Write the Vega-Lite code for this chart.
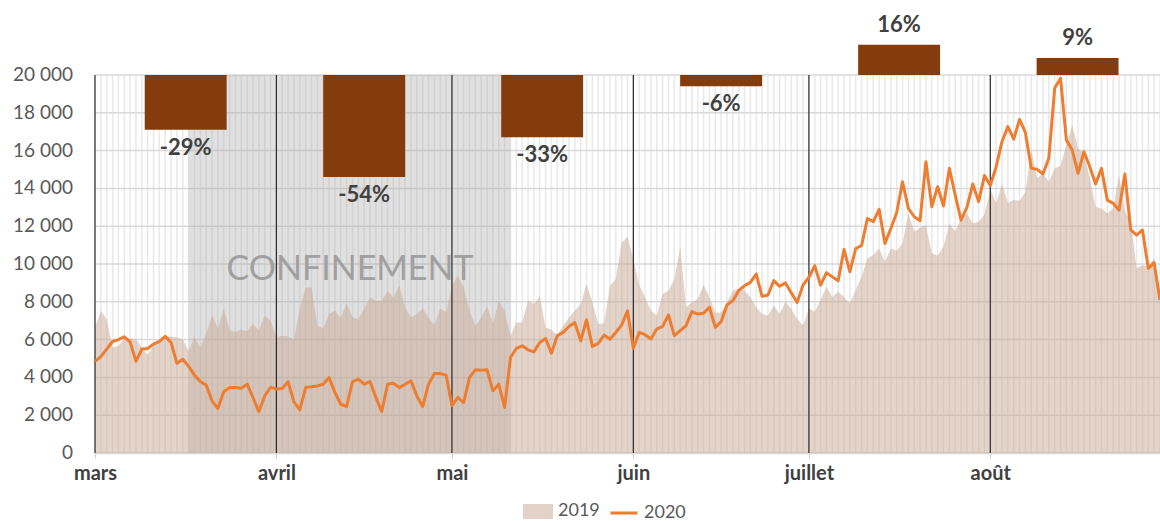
{
  "$schema": "https://vega.github.io/schema/vega-lite/v6.json",
  "width": 1065,
  "height": 378,
  "autosize": {"type": "none"},
  "padding": {"left": 95, "top": 75, "right": 0, "bottom": 68},
  "background": "white",
  "config": {"view": {"stroke": null}, "font": "Lato", "axisY": {"disable": true}},
  "datasets": {
    "daily": [
      {"date":"2020-03-01","v2019":6640,"v2020":4850},{"date":"2020-03-02","v2019":7520,"v2020":5100},{"date":"2020-03-03","v2019":7080,"v2020":5500},{"date":"2020-03-04","v2019":5580,"v2020":5900},{"date":"2020-03-05","v2019":5670,"v2020":6000},{"date":"2020-03-06","v2019":6060,"v2020":6150},{"date":"2020-03-07","v2019":6060,"v2020":5880},{"date":"2020-03-08","v2019":6020,"v2020":4850},{"date":"2020-03-09","v2019":5580,"v2020":5500},{"date":"2020-03-10","v2019":5180,"v2020":5530},{"date":"2020-03-11","v2019":5670,"v2020":5760},{"date":"2020-03-12","v2019":5940,"v2020":5900},{"date":"2020-03-13","v2019":6170,"v2020":6170},{"date":"2020-03-14","v2019":6170,"v2020":5850},{"date":"2020-03-15","v2019":6110,"v2020":4740},{"date":"2020-03-16","v2019":6020,"v2020":4960},{"date":"2020-03-17","v2019":5400,"v2020":4580},{"date":"2020-03-18","v2019":6110,"v2020":4120},{"date":"2020-03-19","v2019":5580,"v2020":3780},{"date":"2020-03-20","v2019":6290,"v2020":3590},{"date":"2020-03-21","v2019":7300,"v2020":2760},{"date":"2020-03-22","v2019":6580,"v2020":2350},{"date":"2020-03-23","v2019":7630,"v2020":3240},{"date":"2020-03-24","v2019":6500,"v2020":3460},{"date":"2020-03-25","v2019":6400,"v2020":3460},{"date":"2020-03-26","v2019":6520,"v2020":3430},{"date":"2020-03-27","v2019":6450,"v2020":3640},{"date":"2020-03-28","v2019":6830,"v2020":2940},{"date":"2020-03-29","v2019":6480,"v2020":2180},{"date":"2020-03-30","v2019":7280,"v2020":3020},{"date":"2020-03-31","v2019":7000,"v2020":3480},
      {"date":"2020-04-01","v2019":6130,"v2020":3380},{"date":"2020-04-02","v2019":6200,"v2020":3410},{"date":"2020-04-03","v2019":6170,"v2020":3770},{"date":"2020-04-04","v2019":6020,"v2020":2700},{"date":"2020-04-05","v2019":7610,"v2020":2280},{"date":"2020-04-06","v2019":8760,"v2020":3460},{"date":"2020-04-07","v2019":8760,"v2020":3500},{"date":"2020-04-08","v2019":6730,"v2020":3550},{"date":"2020-04-09","v2019":6600,"v2020":3640},{"date":"2020-04-10","v2019":7350,"v2020":3990},{"date":"2020-04-11","v2019":7520,"v2020":3200},{"date":"2020-04-12","v2019":7140,"v2020":2580},{"date":"2020-04-13","v2019":7910,"v2020":2460},{"date":"2020-04-14","v2019":7170,"v2020":3770},{"date":"2020-04-15","v2019":7080,"v2020":3910},{"date":"2020-04-16","v2019":7650,"v2020":3640},{"date":"2020-04-17","v2019":8230,"v2020":3780},{"date":"2020-04-18","v2019":8050,"v2020":2940},{"date":"2020-04-19","v2019":8050,"v2020":2180},{"date":"2020-04-20","v2019":8580,"v2020":3640},{"date":"2020-04-21","v2019":8230,"v2020":3690},{"date":"2020-04-22","v2019":8880,"v2020":3460},{"date":"2020-04-23","v2019":7700,"v2020":3640},{"date":"2020-04-24","v2019":7170,"v2020":3820},{"date":"2020-04-25","v2019":7350,"v2020":3020},{"date":"2020-04-26","v2019":7650,"v2020":2460},{"date":"2020-04-27","v2019":7170,"v2020":3640},{"date":"2020-04-28","v2019":6770,"v2020":4200},{"date":"2020-04-29","v2019":7650,"v2020":4200},{"date":"2020-04-30","v2019":7440,"v2020":4120},
      {"date":"2020-05-01","v2019":8850,"v2020":2500},{"date":"2020-05-02","v2019":9380,"v2020":2940},{"date":"2020-05-03","v2019":8760,"v2020":2670},{"date":"2020-05-04","v2019":7520,"v2020":4000},{"date":"2020-05-05","v2019":6730,"v2020":4400},{"date":"2020-05-06","v2019":7170,"v2020":4380},{"date":"2020-05-07","v2019":7750,"v2020":4400},{"date":"2020-05-08","v2019":6870,"v2020":3290},{"date":"2020-05-09","v2019":8050,"v2020":3640},{"date":"2020-05-10","v2019":7520,"v2020":2410},{"date":"2020-05-11","v2019":6200,"v2020":5050},{"date":"2020-05-12","v2019":6910,"v2020":5530},{"date":"2020-05-13","v2019":6910,"v2020":5670},{"date":"2020-05-14","v2019":8050,"v2020":5460},{"date":"2020-05-15","v2019":7880,"v2020":5350},{"date":"2020-05-16","v2019":8280,"v2020":5850},{"date":"2020-05-17","v2019":6640,"v2020":6060},{"date":"2020-05-18","v2019":6520,"v2020":5280},{"date":"2020-05-19","v2019":6240,"v2020":6200},{"date":"2020-05-20","v2019":6730,"v2020":6380},{"date":"2020-05-21","v2019":7170,"v2020":6690},{"date":"2020-05-22","v2019":7520,"v2020":6900},{"date":"2020-05-23","v2019":7880,"v2020":5940},{"date":"2020-05-24","v2019":8940,"v2020":7050},{"date":"2020-05-25","v2019":7970,"v2020":5640},{"date":"2020-05-26","v2019":6820,"v2020":5800},{"date":"2020-05-27","v2019":6870,"v2020":6240},{"date":"2020-05-28","v2019":8850,"v2020":6020},{"date":"2020-05-29","v2019":9200,"v2020":6380},{"date":"2020-05-30","v2019":11140,"v2020":6770},{"date":"2020-05-31","v2019":11460,"v2020":7520},
      {"date":"2020-06-01","v2019":10260,"v2020":5540},{"date":"2020-06-02","v2019":8900,"v2020":6380},{"date":"2020-06-03","v2019":8240,"v2020":6260},{"date":"2020-06-04","v2019":7530,"v2020":6030},{"date":"2020-06-05","v2019":7270,"v2020":6560},{"date":"2020-06-06","v2019":8410,"v2020":6700},{"date":"2020-06-07","v2019":8590,"v2020":7300},{"date":"2020-06-08","v2019":9210,"v2020":6210},{"date":"2020-06-09","v2019":10880,"v2020":6470},{"date":"2020-06-10","v2019":7710,"v2020":6740},{"date":"2020-06-11","v2019":7970,"v2020":7480},{"date":"2020-06-12","v2019":8150,"v2020":7350},{"date":"2020-06-13","v2019":8890,"v2020":7390},{"date":"2020-06-14","v2019":8240,"v2020":7710},{"date":"2020-06-15","v2019":7440,"v2020":6650},{"date":"2020-06-16","v2019":7440,"v2020":6950},{"date":"2020-06-17","v2019":7970,"v2020":7830},{"date":"2020-06-18","v2019":8590,"v2020":8060},{"date":"2020-06-19","v2019":8710,"v2020":8590},{"date":"2020-06-20","v2019":8590,"v2020":8850},{"date":"2020-06-21","v2019":8240,"v2020":9030},{"date":"2020-06-22","v2019":7710,"v2020":9470},{"date":"2020-06-23","v2019":7350,"v2020":8290},{"date":"2020-06-24","v2019":7270,"v2020":8360},{"date":"2020-06-25","v2019":7800,"v2020":9120},{"date":"2020-06-26","v2019":7350,"v2020":8820},{"date":"2020-06-27","v2019":8000,"v2020":9000},{"date":"2020-06-28","v2019":7620,"v2020":8470},{"date":"2020-06-29","v2019":7090,"v2020":7970},{"date":"2020-06-30","v2019":6740,"v2020":8890},
      {"date":"2020-07-01","v2019":7650,"v2020":9300},{"date":"2020-07-02","v2019":7470,"v2020":9910},{"date":"2020-07-03","v2019":8090,"v2020":8880},{"date":"2020-07-04","v2019":8790,"v2020":9540},{"date":"2020-07-05","v2019":8260,"v2020":9320},{"date":"2020-07-06","v2019":8530,"v2020":9110},{"date":"2020-07-07","v2019":8260,"v2020":10770},{"date":"2020-07-08","v2019":7910,"v2020":9590},{"date":"2020-07-09","v2019":8620,"v2020":10820},{"date":"2020-07-10","v2019":9320,"v2020":10970},{"date":"2020-07-11","v2019":10290,"v2020":12410},{"date":"2020-07-12","v2019":10470,"v2020":12240},{"date":"2020-07-13","v2019":10820,"v2020":12890},{"date":"2020-07-14","v2019":10120,"v2020":11090},{"date":"2020-07-15","v2019":10820,"v2020":11880},{"date":"2020-07-16","v2019":10700,"v2020":12710},{"date":"2020-07-17","v2019":11090,"v2020":14350},{"date":"2020-07-18","v2019":12680,"v2020":12940},{"date":"2020-07-19","v2019":11720,"v2020":12500},{"date":"2020-07-20","v2019":11900,"v2020":12290},{"date":"2020-07-21","v2019":12070,"v2020":15410},{"date":"2020-07-22","v2019":10570,"v2020":13030},{"date":"2020-07-23","v2019":10430,"v2020":14090},{"date":"2020-07-24","v2019":10910,"v2020":13070},{"date":"2020-07-25","v2019":12150,"v2020":15060},{"date":"2020-07-26","v2019":11720,"v2020":13650},{"date":"2020-07-27","v2019":12410,"v2020":12320},{"date":"2020-07-28","v2019":12680,"v2020":12990},{"date":"2020-07-29","v2019":12150,"v2020":14230},{"date":"2020-07-30","v2019":12240,"v2020":13300},{"date":"2020-07-31","v2019":12600,"v2020":14680},
      {"date":"2020-08-01","v2019":13950,"v2020":14150},{"date":"2020-08-02","v2019":13210,"v2020":15150},{"date":"2020-08-03","v2019":14230,"v2020":16470},{"date":"2020-08-04","v2019":13240,"v2020":17270},{"date":"2020-08-05","v2019":13380,"v2020":16610},{"date":"2020-08-06","v2019":13350,"v2020":17650},{"date":"2020-08-07","v2019":13820,"v2020":16950},{"date":"2020-08-08","v2019":16030,"v2020":15060},{"date":"2020-08-09","v2019":14530,"v2020":15010},{"date":"2020-08-10","v2019":14800,"v2020":14760},{"date":"2020-08-11","v2019":14350,"v2020":15590},{"date":"2020-08-12","v2019":15060,"v2020":19300},{"date":"2020-08-13","v2019":15180,"v2020":19830},{"date":"2020-08-14","v2019":16300,"v2020":16560},{"date":"2020-08-15","v2019":17350,"v2020":16030},{"date":"2020-08-16","v2019":16120,"v2020":14800},{"date":"2020-08-17","v2019":15850,"v2020":15940},{"date":"2020-08-18","v2019":14530,"v2020":15150},{"date":"2020-08-19","v2019":13030,"v2020":14230},{"date":"2020-08-20","v2019":12940,"v2020":15060},{"date":"2020-08-21","v2019":12680,"v2020":13380},{"date":"2020-08-22","v2019":12940,"v2020":13210},{"date":"2020-08-23","v2019":14710,"v2020":12850},{"date":"2020-08-24","v2019":12770,"v2020":14760},{"date":"2020-08-25","v2019":12320,"v2020":11800},{"date":"2020-08-26","v2019":9770,"v2020":11530},{"date":"2020-08-27","v2019":9940,"v2020":11800},{"date":"2020-08-28","v2019":9850,"v2020":9770},{"date":"2020-08-29","v2019":10290,"v2020":10070},{"date":"2020-08-30","v2019":8440,"v2020":8090}
    ],
    "months": [
      {"date":"2020-03-01"},{"date":"2020-04-01"},{"date":"2020-05-01"},{"date":"2020-06-01"},{"date":"2020-07-01"},{"date":"2020-08-01"}
    ],
    "yticks": [
      {"date":"2020-03-01","tick":0,"label":"0"},{"date":"2020-03-01","tick":2000,"label":"2 000"},{"date":"2020-03-01","tick":4000,"label":"4 000"},{"date":"2020-03-01","tick":6000,"label":"6 000"},{"date":"2020-03-01","tick":8000,"label":"8 000"},{"date":"2020-03-01","tick":10000,"label":"10 000"},{"date":"2020-03-01","tick":12000,"label":"12 000"},{"date":"2020-03-01","tick":14000,"label":"14 000"},{"date":"2020-03-01","tick":16000,"label":"16 000"},{"date":"2020-03-01","tick":18000,"label":"18 000"},{"date":"2020-03-01","tick":20000,"label":"20 000"}
    ],
    "bars": [
      {"month":"mars","start":"2020-03-09T12:00:00Z","stop":"2020-03-23T12:00:00Z","mid":"2020-03-16T12:00:00Z","pct":-29,"base":20000,"level":17100,"label":"-29%"},
      {"month":"avril","start":"2020-04-09T00:00:00Z","stop":"2020-04-23T00:00:00Z","mid":"2020-04-16T00:00:00Z","pct":-54,"base":20000,"level":14600,"label":"-54%"},
      {"month":"mai","start":"2020-05-09T10:00:00Z","stop":"2020-05-23T10:00:00Z","mid":"2020-05-16T10:00:00Z","pct":-33,"base":20000,"level":16700,"label":"-33%"},
      {"month":"juin","start":"2020-06-09T00:00:00Z","stop":"2020-06-23T00:00:00Z","mid":"2020-06-16T00:00:00Z","pct":-6,"base":20000,"level":19400,"label":"-6%"},
      {"month":"juillet","start":"2020-07-09T10:00:00Z","stop":"2020-07-23T10:00:00Z","mid":"2020-07-16T10:00:00Z","pct":16,"base":20000,"level":21600,"label":"16%"},
      {"month":"août","start":"2020-08-08T22:00:00Z","stop":"2020-08-22T22:00:00Z","mid":"2020-08-15T22:00:00Z","pct":9,"base":20000,"level":20900,"label":"9%"}
    ],
    "confinement": [
      {"start":"2020-03-17","end":"2020-05-11","mid":"2020-04-13T14:00:00Z","lo":0,"hi":20000,"label":"CONFINEMENT","labelValue":9700}
    ]
  },
  "layer": [
    {
      "data": {"name": "daily"},
      "mark": {"type": "rule", "color": "#e9e9e9", "strokeWidth": 1.5},
      "encoding": {
        "x": {
          "field": "date", "type": "temporal",
          "scale": {"type": "utc", "domain": ["2020-03-01T00:00:00Z", "2020-08-30T00:00:00Z"]},
          "axis": {
            "title": null, "grid": false,
            "tickCount": {"interval": "month", "step": 1},
            "labelExpr": "['janvier','février','mars','avril','mai','juin','juillet','août','septembre'][utcmonth(datum.value)]",
            "labelFont": "Lato", "labelFontWeight": "bold", "labelFontSize": 20, "labelColor": "#404040",
            "labelPadding": 5, "labelOverlap": false, "labelFlush": false, "labelAlign": "center",
            "domainColor": "#d9d9d9", "domainWidth": 1.5, "tickColor": "#d0d0d0", "tickSize": 5
          }
        }
      }
    },
    {
      "data": {"name": "yticks"},
      "mark": {"type": "rule", "color": "#d9d9d9", "strokeWidth": 1.5},
      "encoding": {
        "y": {"field": "tick", "type": "quantitative", "scale": {"domain": [0, 20000], "nice": false}, "axis": null}
      }
    },
    {
      "data": {"name": "confinement"},
      "mark": {"type": "rect", "color": "#a4a4a4", "opacity": 0.34},
      "encoding": {
        "x": {"field": "start", "type": "temporal"},
        "x2": {"field": "end"},
        "y": {"field": "lo", "type": "quantitative", "axis": null},
        "y2": {"field": "hi"}
      }
    },
    {
      "data": {"name": "daily"},
      "mark": {"type": "area", "opacity": 0.5, "interpolate": "linear"},
      "encoding": {
        "x": {"field": "date", "type": "temporal"},
        "y": {"field": "v2019", "type": "quantitative", "axis": null},
        "color": {
          "datum": "2019", "type": "nominal",
          "scale": {"domain": ["2019", "2020"], "range": ["#c9a793", "#ed7d31"]},
          "legend": {
            "orient": "none", "legendX": 428, "legendY": 421, "direction": "horizontal",
            "title": null, "labelFont": "Lato", "labelFontSize": 18, "labelColor": "#595959",
            "symbolSize": 729, "columnPadding": 4, "labelOffset": 5, "padding": 0,
            "symbolType": "M-1,-0.45H1V0.45H-1Z",
            "encode": {
              "symbols": {
                "update": {
                  "shape": {"signal": "datum.value === '2019' ? 'M-1,-0.45H1V0.45H-1Z' : 'stroke'"},
                  "stroke": {"signal": "datum.value === '2019' ? 'transparent' : '#ed7d31'"},
                  "strokeWidth": {"value": 3},
                  "opacity": {"signal": "datum.value === '2019' ? 0.5 : 1"}
                }
              }
            }
          }
        }
      }
    },
    {
      "data": {"name": "months"},
      "mark": {"type": "rule", "color": "#2b2b2b", "strokeWidth": 1.2},
      "encoding": {
        "x": {"field": "date", "type": "temporal"}
      }
    },
    {
      "data": {"name": "daily"},
      "mark": {"type": "line", "strokeWidth": 3, "interpolate": "linear", "strokeJoin": "round"},
      "encoding": {
        "x": {"field": "date", "type": "temporal"},
        "y": {"field": "v2020", "type": "quantitative", "axis": null},
        "color": {
          "datum": "2020", "type": "nominal",
          "legend": {
            "orient": "none", "legendX": 428, "legendY": 421, "direction": "horizontal",
            "title": null, "labelFont": "Lato", "labelFontSize": 18, "labelColor": "#595959",
            "symbolSize": 729, "columnPadding": 4, "labelOffset": 5, "padding": 0,
            "symbolType": "M-1,-0.45H1V0.45H-1Z",
            "encode": {
              "symbols": {
                "update": {
                  "shape": {"signal": "datum.value === '2019' ? 'M-1,-0.45H1V0.45H-1Z' : 'stroke'"},
                  "stroke": {"signal": "datum.value === '2019' ? 'transparent' : '#ed7d31'"},
                  "strokeWidth": {"value": 3},
                  "opacity": {"signal": "datum.value === '2019' ? 0.5 : 1"}
                }
              }
            }
          }
        }
      }
    },
    {
      "data": {"name": "bars"},
      "mark": {"type": "bar", "color": "#843c0c"},
      "encoding": {
        "x": {"field": "start", "type": "temporal"},
        "x2": {"field": "stop"},
        "y": {"field": "base", "type": "quantitative", "axis": null},
        "y2": {"field": "level"}
      }
    },
    {
      "data": {"name": "bars"},
      "transform": [{"filter": "datum.pct < 0"}],
      "mark": {"type": "text", "font": "Lato", "fontWeight": "bold", "fontSize": 22, "color": "#404040", "baseline": "middle", "align": "center", "dy": 18},
      "encoding": {
        "x": {"field": "mid", "type": "temporal"},
        "y": {"field": "level", "type": "quantitative", "axis": null},
        "text": {"field": "label"}
      }
    },
    {
      "data": {"name": "bars"},
      "transform": [{"filter": "datum.pct > 0"}],
      "mark": {"type": "text", "font": "Lato", "fontWeight": "bold", "fontSize": 22, "color": "#404040", "baseline": "middle", "align": "center", "dy": -20},
      "encoding": {
        "x": {"field": "mid", "type": "temporal"},
        "y": {"field": "level", "type": "quantitative", "axis": null},
        "text": {"field": "label"}
      }
    },
    {
      "data": {"name": "confinement"},
      "mark": {"type": "text", "font": "Lato", "fontSize": 34, "color": "#a0a0a0", "baseline": "middle", "align": "center"},
      "encoding": {
        "x": {"field": "mid", "type": "temporal"},
        "y": {"field": "labelValue", "type": "quantitative", "axis": null},
        "text": {"field": "label"}
      }
    },
    {
      "data": {"name": "yticks"},
      "mark": {"type": "text", "font": "Lato", "fontSize": 19, "color": "#595959", "baseline": "middle", "align": "right", "dx": -22},
      "encoding": {
        "x": {"field": "date", "type": "temporal"},
        "y": {"field": "tick", "type": "quantitative", "axis": null},
        "text": {"field": "label"}
      }
    }
  ]
}
